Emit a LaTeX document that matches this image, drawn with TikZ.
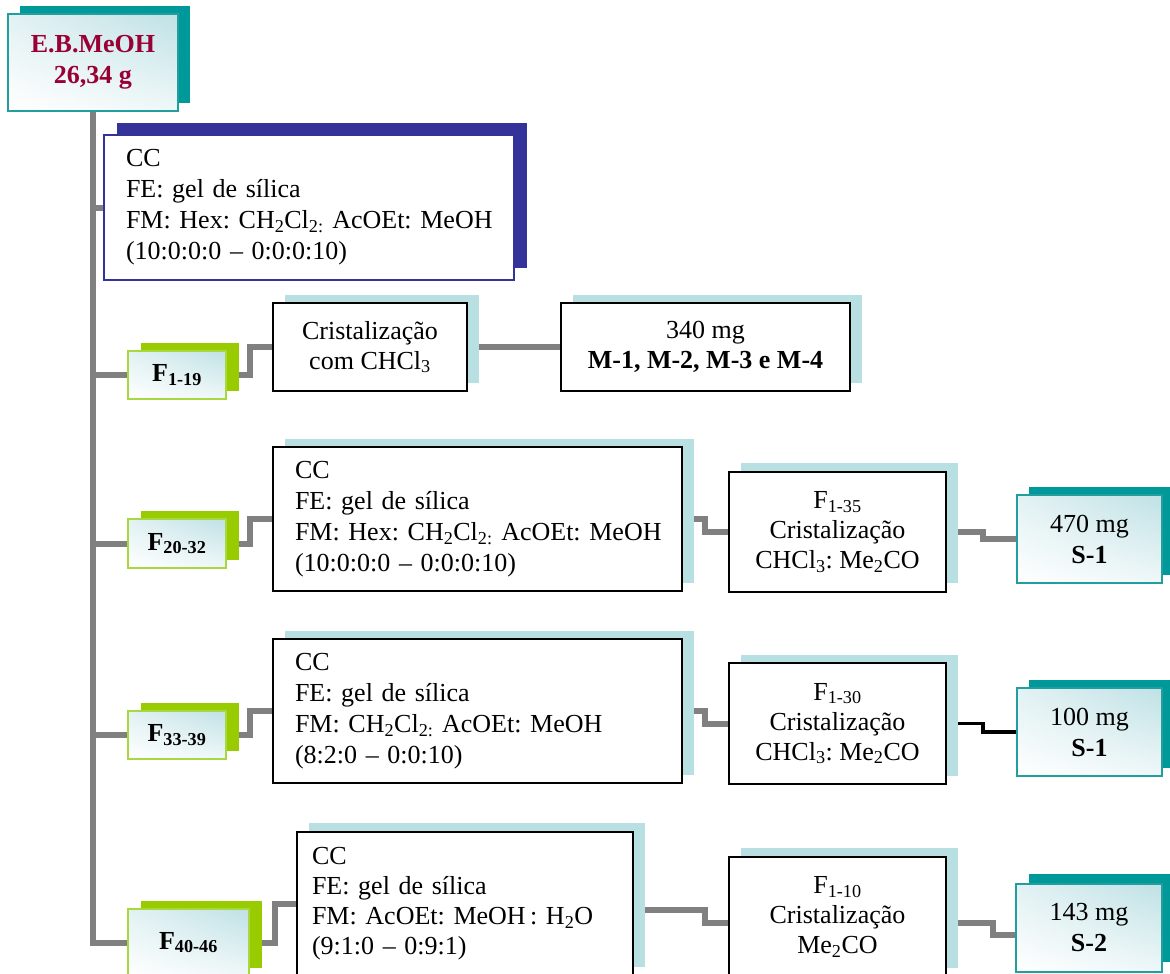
\documentclass[tikz,border=0pt]{standalone}
\usepackage{fontspec}
\setmainfont{Liberation Serif}
\usetikzlibrary{shadings}
\pgfdeclarelayer{lines}
\pgfdeclarelayer{shadows}
\pgfsetlayers{lines,shadows,main}
\definecolor{tealc}{HTML}{009999}
\definecolor{tealb}{HTML}{229E9E}
\definecolor{navy}{HTML}{333399}
\definecolor{greenc}{HTML}{99CC00}
\definecolor{greenb}{HTML}{A8D840}
\definecolor{lblue}{HTML}{B8DFE2}
\definecolor{grayc}{HTML}{808080}
\definecolor{redc}{HTML}{990033}
\definecolor{shadeblue}{HTML}{BFE1E5}
\newcommand\boxshadow[3]{\fill[#1] ([shift={(#2)}]#3.north west) rectangle ([shift={(#2)}]#3.south east);}
\frenchspacing
\begin{document}
\frenchspacing
\begin{tikzpicture}[x=1pt,y=-1pt,
  base/.style={rectangle, anchor=north west, inner sep=0pt, outer sep=0pt, font=\fontsize{26}{31}\selectfont\frenchspacing, line width=1.2pt},
  plainbox/.style={base, draw=black, fill=white, align=center, font=\fontsize{26}{30}\selectfont\frenchspacing},
  ccbox/.style={base, draw=black, fill=white, align=left, inner xsep=22pt},
  gradbox/.style={base, upper left=shadeblue!45!white, upper right=shadeblue, lower left=white, lower right=shadeblue!25!white, align=center},
  fbox/.style={gradbox, draw=greenb, font=\fontsize{26}{31}\selectfont\bfseries},
  sbox/.style={gradbox, draw=tealb},
  conn/.style={draw=grayc, line width=6pt},
  connk/.style={draw=black, line width=3.5pt}
]
\useasboundingbox (0,0) rectangle (1170,974);

\node[sbox, minimum width=170pt, minimum height=97pt, text=redc, font=\fontsize{26}{31}\selectfont\bfseries] (eb) at (8,14) {E.B.MeOH\\26,34 g};

\node[ccbox, draw=navy, text width=366pt, minimum height=145pt] (cc1) at (104,135)
  {CC\\FE: gel de sílica\\\mbox{FM: Hex: CH\textsubscript{2}Cl\textsubscript{2:} AcOEt: MeOH}\\(10:0:0:0 – 0:0:0:10)};

\node[fbox, minimum width=98pt, minimum height=48pt] (f1) at (128,351) {F\textsubscript{1-19}};
\node[plainbox, minimum width=194pt, minimum height=88pt] (cr1) at (273,303) {Cristalização\\com CHCl\textsubscript{3}};
\node[plainbox, minimum width=289pt, minimum height=88pt] (m1) at (561,303) {340 mg\\\textbf{M-1, M-2, M-3 e M-4}};

\node[fbox, minimum width=98pt, minimum height=49pt] (f2) at (128,519) {F\textsubscript{20-32}};
\node[ccbox, text width=365pt, minimum height=144pt] (cc2) at (273,447)
  {CC\\FE: gel de sílica\\\mbox{FM: Hex: CH\textsubscript{2}Cl\textsubscript{2:} AcOEt: MeOH}\\(10:0:0:0 – 0:0:0:10)};
\node[plainbox, minimum width=217pt, minimum height=120pt] (cr2) at (729,472) {F\textsubscript{1-35}\\Cristalização\\CHCl\textsubscript{3}: Me\textsubscript{2}CO};
\node[sbox, minimum width=145pt, minimum height=88pt] (s1) at (1017,495) {470 mg\\\textbf{S-1}};

\node[fbox, minimum width=98pt, minimum height=48pt] (f3) at (128,711) {F\textsubscript{33-39}};
\node[ccbox, text width=365pt, minimum height=144pt] (cc3) at (273,639)
  {CC\\FE: gel de sílica\\\mbox{FM: CH\textsubscript{2}Cl\textsubscript{2:} AcOEt: MeOH}\\(8:2:0 – 0:0:10)};
\node[plainbox, minimum width=217pt, minimum height=121pt] (cr3) at (729,663) {F\textsubscript{1-30}\\Cristalização\\CHCl\textsubscript{3}: Me\textsubscript{2}CO};
\node[sbox, minimum width=145pt, minimum height=88pt] (s1b) at (1017,688) {100 mg\\\textbf{S-1}};

\node[fbox, minimum width=121pt, minimum height=67pt] (f4) at (128,909) {F\textsubscript{40-46}};
\node[ccbox, inner xsep=15pt, text width=306pt, minimum height=144pt, font=\fontsize{26}{30}\selectfont\frenchspacing] (cc4) at (297,832)
  {CC\\FE: gel de sílica\\\mbox{FM: AcOEt: MeOH\,: H\textsubscript{2}O}\\(9:1:0 – 0:9:1)};
\node[plainbox, minimum width=217pt, minimum height=120pt] (cr4) at (729,857) {F\textsubscript{1-10}\\Cristalização\\Me\textsubscript{2}CO};
\node[sbox, minimum width=146pt, minimum height=88pt] (s2) at (1016,884) {143 mg\\\textbf{S-2}};

\begin{pgfonlayer}{shadows}
\boxshadow{tealc}{12,-8}{eb}
\boxshadow{navy}{13,-12}{cc1}
\boxshadow{greenc}{13,-8}{f1}
\boxshadow{greenc}{13,-8}{f2}
\boxshadow{greenc}{13,-8}{f3}
\boxshadow{greenc}{13,-8}{f4}
\boxshadow{lblue}{12,-8}{cr1}
\boxshadow{lblue}{12,-8}{m1}
\boxshadow{lblue}{12,-8}{cc2}
\boxshadow{lblue}{12,-9}{cr2}
\boxshadow{lblue}{12,-8}{cc3}
\boxshadow{lblue}{12,-8}{cr3}
\boxshadow{lblue}{12,-9}{cc4}
\boxshadow{lblue}{12,-9}{cr4}
\boxshadow{tealc}{12,-8}{s1}
\boxshadow{tealc}{12,-8}{s1b}
\boxshadow{tealc}{13,-10}{s2}
\end{pgfonlayer}

\begin{pgfonlayer}{lines}
\draw[conn] (eb.south) |- (f4.west);
\draw[conn] (eb.south |- cc1.west) -- (cc1.west);
\draw[conn] (eb.south |- f1.west) -- (f1.west);
\draw[conn] (eb.south |- f2.west) -- (f2.west);
\draw[conn] (eb.south |- f3.west) -- (f3.west);
\draw[conn] (f1.east) -- ++(24,0) |- (cr1.west);
\draw[conn] (f2.east) -- ++(24,0) |- (cc2.west);
\draw[conn] (f3.east) -- ++(24,0) |- (cc3.west);
\draw[conn] (f4.east) -- ++(26,0) |- (cc4.west);
\draw[conn] (cr1.east) -- (m1.west);
\draw[conn] (cc2.east) -- ++(23,0) |- (cr2.west);
\draw[conn] (cr2.east) -- ++(37,0) |- (s1.west);
\draw[conn] (cc3.east) -- ++(23,0) |- (cr3.west);
\draw[connk] (cr3.east) -- ++(37,0) |- (s1b.west);
\draw[conn] ([yshift=-6pt]cc4.east) -- ++(72,0) |- ([yshift=-6pt]cr4.west);
\draw[conn] ([yshift=-6pt]cr4.east) -- ++(47,0) |- ([yshift=-7pt]s2.west);
\end{pgfonlayer}
\end{tikzpicture}
\end{document}
